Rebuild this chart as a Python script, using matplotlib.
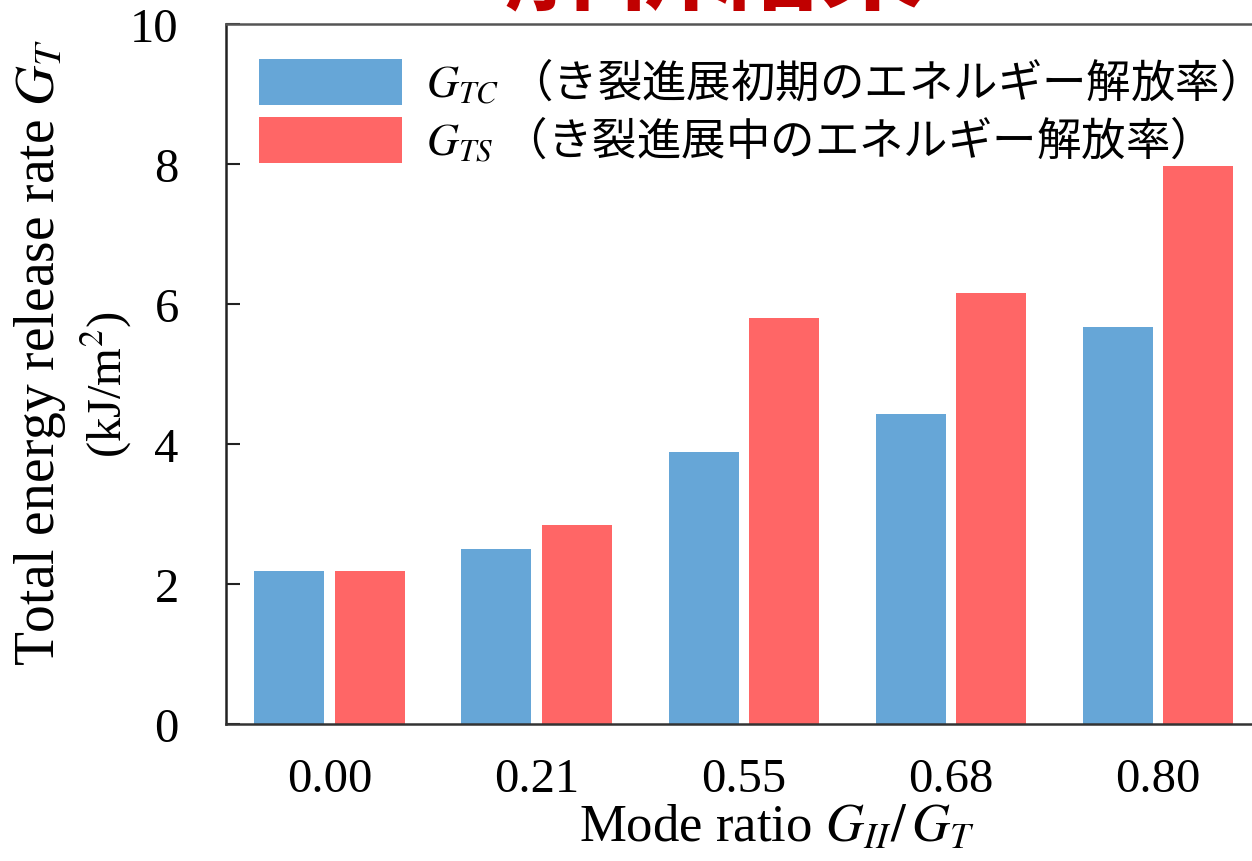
import matplotlib
matplotlib.use("Agg")
import matplotlib.pyplot as plt
import numpy as np

# ---- data ----
categories = ["0.00", "0.21", "0.55", "0.68", "0.80"]
g_tc = [2.19, 2.50, 3.89, 4.43, 5.67]
g_ts = [2.19, 2.84, 5.80, 6.16, 7.97]
label_tc = "$G_{TC}$ （き裂進展初期のエネルギー解放率）"
label_ts = "$G_{TS}$ （き裂進展中のエネルギー解放率）"
yticks = [0, 2, 4, 6, 8, 10]
title_text = "解析結果"

plt.rcParams['mathtext.fontset'] = 'stix'

W, H = 1252, 862
fig = plt.figure(figsize=(W / 100, H / 100), dpi=100)
ax = fig.add_axes([226 / W, 1 - 725 / H, (1261.5 - 226) / W, (725 - 25) / H])

x = np.arange(len(categories))
bw = 0.338
off = 0.194
ax.bar(x - off, g_tc, width=bw, color="#66A6D7", label=label_tc)
ax.bar(x + off, g_ts, width=bw, color="#FF6666", label=label_ts)

ax.set_xlim(-0.5, 4.5)
ax.set_ylim(0, 10)
ax.set_xticks(x)
ax.set_xticklabels(categories)
ax.set_yticks(yticks)

serif = ["Liberation Serif", "DejaVu Serif"]
for lab in ax.get_xticklabels() + ax.get_yticklabels():
    lab.set_fontfamily(serif)
    lab.set_fontsize(35)
ax.tick_params(axis='x', length=0, pad=24)
ax.tick_params(axis='y', direction='in', length=10, width=1.5, pad=34, color='#222222')

for s in ['left', 'bottom', 'top']:
    ax.spines[s].set_linewidth(1.8)
ax.spines['left'].set_color('#222222')
ax.spines['bottom'].set_color('#333333')
ax.spines['top'].set_color('#555555')
ax.spines['right'].set_visible(False)

# axis labels
fig.text(40 / W, 1 - 352 / H, "Total energy release rate $G_T$", rotation=90,
         ha='center', va='center', fontsize=40, family=serif)
fig.text(106 / W, 1 - 385 / H, "(kJ/m$^2$)", rotation=90,
         ha='center', va='center', fontsize=35, family=serif)
fig.text(777 / W, 1 - 829 / H, "Mode ratio $G_{II}/\\,G_T$",
         ha='center', va='center', fontsize=38, family=serif)

# legend
leg = ax.legend(loc='upper left', bbox_to_anchor=(0.0, 1.0), frameon=False,
                prop={'family': ['Noto Sans CJK JP', 'DejaVu Sans'], 'size': 32},
                handlelength=3.2, handleheight=1.22, handletextpad=0.55,
                labelspacing=0.2, borderaxespad=0.3, borderpad=0.45)

# cropped title at top
fig.text(715 / W, 1 + 30 / H, title_text, ha='center', va='center',
         fontsize=76, fontweight='bold', color='#C00000',
         family=['Noto Sans CJK JP', 'DejaVu Sans'])

fig.savefig("out.png", dpi=100)
